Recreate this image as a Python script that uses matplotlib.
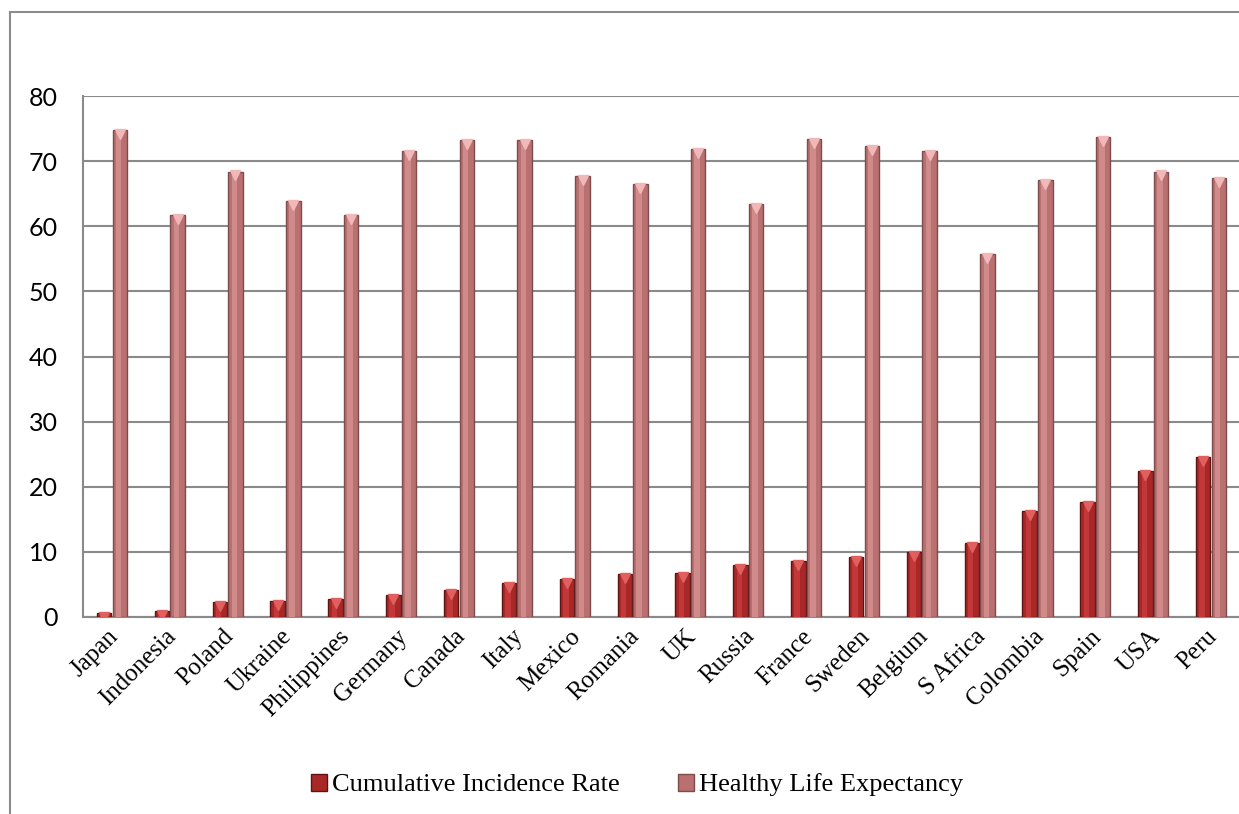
import numpy as np
import matplotlib.pyplot as plt
from matplotlib.patches import Rectangle
from matplotlib.transforms import ScaledTranslation

countries = ["Japan", "Indonesia", "Poland", "Ukraine", "Philippines", "Germany",
             "Canada", "Italy", "Mexico", "Romania", "UK", "Russia", "France",
             "Sweden", "Belgium", "S Africa", "Colombia", "Spain", "USA", "Peru"]
incidence_rate = [0.57, 0.92, 2.3, 2.46, 2.76, 3.33, 4.1, 5.2, 5.83, 6.6,
                  6.75, 7.98, 8.6, 9.2, 9.93, 11.36, 16.28, 17.66, 22.42, 24.57]
life_expectancy = [74.8, 61.7, 68.4, 63.9, 61.7, 71.5, 73.2, 73.2, 67.7, 66.5,
                   71.8, 63.4, 73.35, 72.3, 71.5, 55.7, 67.05, 73.7, 68.4, 67.36]

W, H = 1239, 814
fig = plt.figure(figsize=(W / 100, H / 100), dpi=100)

# outer chart border (right / bottom edges fall outside the picture)
fig.patches.append(Rectangle((10 / W, -0.1), 1.2, (H - 12) / H + 0.1,
                             transform=fig.transFigure, fill=False,
                             edgecolor="#8c8c8c", linewidth=1.5))

ax = fig.add_axes([83 / W, (H - 617) / H, (1240 - 83) / W, (617 - 96) / H])

x = np.arange(len(countries))
bw = 0.25
off = 0.135


def fancy_bars(pos, vals, base, light, edge, tip):
    ax.bar(pos, vals, bw, color=base, edgecolor=edge, linewidth=1.0, zorder=3)
    ax.bar(pos - bw * 0.08, vals, bw * 0.38, color=light, linewidth=0, zorder=4)
    ax.plot(pos, np.array(vals) - 0.6, linestyle="none", marker="v",
            markersize=7, color=tip, zorder=5)


fancy_bars(x - off, incidence_rate, "#a82828", "#c23838", "#5e1414", "#e06060")
fancy_bars(x + off, life_expectancy, "#b87070", "#d18a8a", "#7e4c4c", "#f0b8b8")

ax.set_xlim(-0.5, len(countries) - 0.5)
ax.set_ylim(0, 80)
ax.set_yticks(range(0, 81, 10))
ax.yaxis.grid(True, color="#8a8a8a", linewidth=1.5, zorder=0)
ax.set_axisbelow(True)
for side in ["top", "right"]:
    ax.spines[side].set_visible(False)
for side in ["left", "bottom"]:
    ax.spines[side].set_color("#8a8a8a")
    ax.spines[side].set_linewidth(1.5)

ax.tick_params(axis="y", length=0, pad=18, labelsize=18)
for lbl in ax.get_yticklabels():
    lbl.set_fontfamily("Lato")

ax.set_xticks(x)
ax.set_xticklabels(countries, rotation=45, ha="right", va="top",
                   rotation_mode="anchor", fontfamily="Liberation Serif",
                   fontsize=18)
ax.tick_params(axis="x", length=0, pad=6)
shift = ScaledTranslation(-5 / 100, 0, fig.dpi_scale_trans)
for lbl in ax.get_xticklabels():
    lbl.set_transform(lbl.get_transform() + shift)

handles = [Rectangle((0, 0), 1, 1, facecolor="#a82828", edgecolor="#5e1414"),
           Rectangle((0, 0), 1, 1, facecolor="#b87070", edgecolor="#7e4c4c")]
fig.legend(handles, ["Cumulative Incidence Rate", "Healthy Life Expectancy"],
           loc="center", bbox_to_anchor=(637 / W, (H - 785) / H), ncol=2,
           frameon=False, prop={"family": "Liberation Serif", "size": 19},
           handlelength=0.6, handleheight=0.6, handletextpad=0.2,
           columnspacing=2.2)

fig.savefig("out.png", dpi=100)
